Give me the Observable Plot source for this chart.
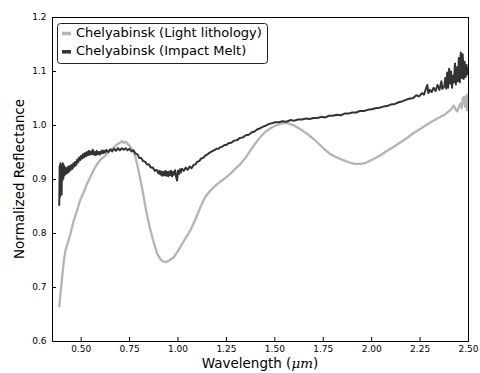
<!DOCTYPE html>
<html><head><meta charset="utf-8">
<script src="https://cdn.jsdelivr.net/npm/d3@7"></script>
<script src="https://cdn.jsdelivr.net/npm/@observablehq/plot@0.6"></script>
<style>body{margin:0;background:#fff} #chart svg{display:block}</style>
</head><body><div id="chart"></div>
<script>
const seriesNames = ["Chelyabinsk (Light lithology)", "Chelyabinsk (Impact Melt)"];
const seriesColors = ["#b4b4b4", "#333333"];
const xTicks = [0.5, 0.75, 1.0, 1.25, 1.5, 1.75, 2.0, 2.25, 2.5];
const yTicks = [0.6, 0.7, 0.8, 0.9, 1.0, 1.1, 1.2];
const xLabel = "Wavelength (";
const xLabelUnit = "μm";
const yLabel = "Normalized Reflectance";

// Light lithology spectrum [wavelength µm, reflectance]
const lightPoints = [
[0.387,0.665],[0.395,0.695],[0.402,0.720],[0.410,0.748],[0.419,0.769],[0.430,0.782],[0.445,0.800],
[0.460,0.822],[0.479,0.843],[0.495,0.862],[0.513,0.876],[0.530,0.892],[0.548,0.905],[0.565,0.918],
[0.583,0.929],[0.600,0.937],[0.617,0.942],[0.635,0.948],[0.651,0.954],[0.670,0.960],[0.686,0.965],
[0.700,0.968],[0.710,0.971],[0.720,0.968],[0.730,0.970],[0.740,0.966],[0.755,0.960],[0.768,0.953],
[0.780,0.942],[0.793,0.922],[0.806,0.899],[0.820,0.874],[0.832,0.849],[0.845,0.826],[0.858,0.806],
[0.875,0.783],[0.892,0.763],[0.910,0.752],[0.925,0.748],[0.940,0.747],[0.955,0.750],[0.978,0.756],
[1.000,0.768],[1.022,0.781],[1.040,0.792],[1.064,0.806],[1.090,0.826],[1.116,0.849],[1.140,0.867],
[1.168,0.880],[1.195,0.889],[1.219,0.896],[1.245,0.903],[1.271,0.911],[1.297,0.920],[1.323,0.929],
[1.350,0.941],[1.374,0.954],[1.400,0.967],[1.426,0.979],[1.450,0.988],[1.478,0.995],[1.505,1.000],
[1.529,1.003],[1.550,1.005],[1.570,1.004],[1.600,1.000],[1.632,0.993],[1.665,0.985],[1.701,0.975],
[1.736,0.963],[1.760,0.955],[1.787,0.947],[1.813,0.942],[1.839,0.938],[1.865,0.934],[1.891,0.931],
[1.915,0.929],[1.942,0.929],[1.970,0.931],[1.994,0.935],[2.020,0.940],[2.046,0.945],[2.070,0.951],
[2.097,0.957],[2.120,0.962],[2.149,0.969],[2.175,0.975],[2.201,0.982],[2.225,0.988],[2.252,0.994],
[2.278,1.000],[2.304,1.006],[2.330,1.011],[2.356,1.016],[2.380,1.021],[2.400,1.027],[2.410,1.030],
[2.424,1.037],[2.433,1.030],[2.442,1.026],[2.450,1.034],[2.459,1.041],[2.465,1.032],[2.470,1.050],
[2.476,1.053],[2.482,1.035],[2.488,1.055],[2.493,1.028],[2.497,1.058],[2.500,1.045]
];

// Impact melt spectrum [wavelength µm, reflectance]
const meltPoints = [
[0.387,0.853],[0.389,0.925],[0.391,0.868],[0.393,0.930],[0.395,0.885],[0.397,0.927],[0.399,0.872],
[0.401,0.921],[0.403,0.898],[0.405,0.930],[0.408,0.902],[0.411,0.926],[0.414,0.908],[0.417,0.922],
[0.420,0.910],[0.424,0.921],[0.428,0.912],[0.432,0.923],[0.436,0.914],[0.440,0.925],[0.445,0.917],
[0.450,0.927],[0.455,0.920],[0.460,0.930],[0.465,0.924],[0.470,0.933],[0.475,0.927],[0.480,0.937],
[0.485,0.932],[0.490,0.941],[0.495,0.936],[0.500,0.944],[0.505,0.939],[0.510,0.947],[0.515,0.941],
[0.520,0.949],[0.525,0.943],[0.530,0.951],[0.535,0.945],[0.540,0.953],[0.545,0.946],[0.550,0.952],
[0.555,0.947],[0.560,0.955],[0.565,0.946],[0.570,0.951],[0.575,0.945],[0.580,0.953],[0.585,0.947],
[0.590,0.951],[0.595,0.946],[0.600,0.952],[0.605,0.948],[0.610,0.954],[0.615,0.949],[0.620,0.953],
[0.625,0.950],[0.630,0.955],[0.640,0.951],[0.650,0.956],[0.660,0.952],[0.670,0.957],[0.680,0.953],
[0.690,0.958],[0.700,0.954],[0.710,0.958],[0.720,0.955],[0.730,0.958],[0.740,0.954],[0.750,0.957],
[0.760,0.952],[0.770,0.954],[0.780,0.948],[0.790,0.947],[0.800,0.940],[0.810,0.940],[0.820,0.934],
[0.830,0.933],[0.840,0.928],[0.850,0.928],[0.860,0.922],[0.870,0.922],[0.880,0.916],[0.890,0.918],
[0.900,0.911],[0.905,0.916],[0.910,0.909],[0.915,0.915],[0.920,0.907],[0.925,0.914],[0.930,0.908],
[0.935,0.916],[0.940,0.907],[0.945,0.914],[0.950,0.906],[0.955,0.915],[0.960,0.908],[0.965,0.916],
[0.970,0.906],[0.975,0.914],[0.980,0.909],[0.985,0.917],[0.990,0.906],[0.995,0.898],[1.000,0.916],
[1.005,0.910],[1.010,0.919],[1.015,0.913],[1.020,0.920],[1.030,0.916],[1.040,0.922],[1.050,0.918],
[1.060,0.924],[1.070,0.921],[1.080,0.927],[1.090,0.928],[1.100,0.933],[1.110,0.934],[1.120,0.939],
[1.130,0.940],[1.140,0.944],[1.150,0.946],[1.160,0.949],[1.170,0.951],[1.180,0.953],[1.190,0.955],
[1.200,0.957],[1.210,0.957],[1.220,0.960],[1.230,0.961],[1.240,0.964],[1.250,0.964],[1.260,0.967],
[1.275,0.968],[1.290,0.972],[1.305,0.973],[1.320,0.977],[1.335,0.978],[1.350,0.982],[1.365,0.983],
[1.380,0.987],[1.395,0.989],[1.410,0.993],[1.425,0.995],[1.440,0.998],[1.455,1.000],[1.470,1.003],
[1.485,1.004],[1.500,1.006],[1.520,1.006],[1.540,1.008],[1.560,1.007],[1.580,1.010],[1.600,1.009],
[1.620,1.011],[1.640,1.011],[1.660,1.013],[1.680,1.012],[1.700,1.014],[1.720,1.014],[1.740,1.016],
[1.760,1.015],[1.780,1.018],[1.800,1.018],[1.820,1.020],[1.840,1.019],[1.860,1.022],[1.880,1.022],
[1.900,1.024],[1.920,1.024],[1.940,1.027],[1.960,1.027],[1.980,1.029],[2.000,1.030],[2.020,1.032],
[2.040,1.033],[2.060,1.035],[2.080,1.036],[2.100,1.039],[2.120,1.040],[2.140,1.043],[2.160,1.045],
[2.180,1.048],[2.200,1.050],[2.215,1.051],[2.230,1.056],[2.245,1.054],[2.260,1.060],[2.270,1.057],
[2.280,1.068],[2.287,1.075],[2.293,1.060],[2.300,1.066],[2.310,1.062],[2.320,1.070],[2.330,1.064],
[2.340,1.075],[2.350,1.066],[2.360,1.082],[2.365,1.068],[2.375,1.072],[2.380,1.088],[2.385,1.068],
[2.390,1.098],[2.395,1.070],[2.400,1.105],[2.405,1.078],[2.410,1.100],[2.415,1.070],[2.420,1.092],
[2.425,1.080],[2.430,1.115],[2.435,1.076],[2.440,1.108],[2.445,1.082],[2.450,1.125],[2.455,1.080],
[2.460,1.135],[2.465,1.088],[2.470,1.132],[2.475,1.086],[2.480,1.118],[2.485,1.090],[2.490,1.112],
[2.495,1.095],[2.500,1.105]
];

const svg = Plot.plot({
  width: 480, height: 373,
  marginLeft: 52, marginRight: 12, marginTop: 17, marginBottom: 32,
  style: {fontFamily: "DejaVu Sans, sans-serif", fontSize: "9px", color: "#000", background: "#fff"},
  x: {domain: [0.352, 2.5]},
  y: {domain: [0.6, 1.2]},
  marks: [
    Plot.line(lightPoints, {x: d => d[0], y: d => d[1], stroke: seriesColors[0], strokeWidth: 2.3, clip: true}),
    Plot.line(meltPoints, {x: d => d[0], y: d => d[1], stroke: seriesColors[1], strokeWidth: 2, clip: true}),
    Plot.axisX(xTicks, {tickSize: -4, tickPadding: 8, tickFormat: d3.format(".2f"), label: null}),
    Plot.axisY(yTicks, {tickSize: -4, tickPadding: 10, tickFormat: d3.format(".1f"), label: null}),
    Plot.frame({stroke: "#000", strokeWidth: 1})
  ]
});
document.getElementById("chart").appendChild(svg);

const s = d3.select(svg);
// axis titles
const xt = s.append("text").attr("x", 260).attr("y", 364).attr("text-anchor", "middle")
  .attr("dominant-baseline", "middle").attr("font-size", 13.5).attr("fill", "#000");
xt.append("tspan").text(xLabel);
xt.append("tspan").attr("font-style", "italic").attr("font-family", "DejaVu Serif, serif").text(xLabelUnit);
xt.append("tspan").text(")");
s.append("text").attr("transform", "translate(20,179) rotate(-90)").attr("text-anchor", "middle")
  .attr("dominant-baseline", "middle").attr("font-size", 13.5).attr("fill", "#000").text(yLabel);

// legend
const lg = s.append("g");
lg.append("rect").attr("x", 57.5).attr("y", 23.5).attr("width", 210).attr("height", 40).attr("rx", 3)
  .attr("fill", "#fff").attr("stroke", "#222").attr("stroke-width", 1);
seriesNames.forEach((name, i) => {
  const y = 33.5 + i * 18.3;
  lg.append("line").attr("x1", 62).attr("x2", 71).attr("y1", y).attr("y2", y)
    .attr("stroke", seriesColors[i]).attr("stroke-width", 3.5);
  lg.append("text").attr("x", 76).attr("y", y).attr("text-anchor", "start").attr("dominant-baseline", "middle")
    .attr("font-size", 13).attr("fill", "#000").text(name);
});
</script>
</body></html>
